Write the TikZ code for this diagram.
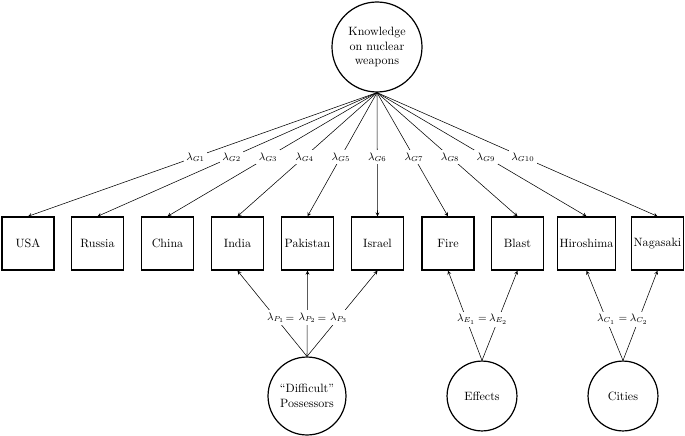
\documentclass[tikz,border=0pt]{standalone}
\usepackage{amsmath,amssymb}
\usepackage{tikz}
\usetikzlibrary{backgrounds,shapes}
\tikzstyle{latent}=[circle,draw=black,line width=1.000,align=center,inner sep=1pt]
\tikzstyle{indicator}=[rectangle,draw=black,line width=1.100,minimum width=43pt,minimum height=44pt,inner sep=1.5pt]
\tikzstyle{loading}=[->, >=stealth, line width=0.450]
\tikzstyle{coef}=[fill=white,inner sep=2pt,font=\small]
\tikzstyle{empty}=[inner sep=0pt,font=\small]
\pgfdeclarelayer{edgelayer}
\pgfdeclarelayer{nodelayer}
\pgfsetlayers{edgelayer,nodelayer,main}

\begin{document}
\begin{tikzpicture}[x=0.83pt,y=-0.83pt]
	\useasboundingbox (0,0) rectangle (685,436);
	\begin{pgfonlayer}{nodelayer}
		\node [style=latent, minimum size=74.7pt] (K) at (377, 47) {Knowledge\\on nuclear\\weapons};
		\node [style=latent, minimum size=64.7pt] (P) at (307, 396) {``Difficult''\\Possessors};
		\node [style=latent, minimum size=58pt] (E) at (482, 396) {Effects};
		\node [style=latent, minimum size=58pt] (C) at (623, 396) {Cities};
		\node [style=indicator] (usa) at (28, 243.5) {USA};
		\node [style=indicator] (rus) at (97.5, 243.5) {Russia};
		\node [style=indicator] (chn) at (167.5, 243.5) {China};
		\node [style=indicator] (ind) at (237.5, 243.5) {India};
		\node [style=indicator] (pak) at (307.5, 243.5) {Pakistan};
		\node [style=indicator] (isr) at (377.5, 243.5) {Israel};
		\node [style=indicator] (fire) at (448, 243.5) {Fire};
		\node [style=indicator] (blast) at (517.5, 243.5) {Blast};
		\node [style=indicator] (hir) at (586.5, 243.5) {Hiroshima};
		\node [style=indicator] (nag) at (657.5, 243.5) {Nagasaki};
		\node [style=empty] (eqP1) at (290, 319) {$=$};
		\node [style=empty] (eqP2) at (322, 319) {$=$};
		\node [style=empty] (eqE) at (482.5, 319) {$=$};
		\node [style=empty] (eqC) at (623, 319) {$=$};
	\end{pgfonlayer}
	\begin{pgfonlayer}{edgelayer}
		\draw [style=loading] (K.south) to node[style=coef, pos=.52] {$\lambda_{G1}$} (usa.north);
		\draw [style=loading] (K.south) to node[style=coef, pos=.52] {$\lambda_{G2}$} (rus.north);
		\draw [style=loading] (K.south) to node[style=coef, pos=.52] {$\lambda_{G3}$} (chn.north);
		\draw [style=loading] (K.south) to node[style=coef, pos=.52] {$\lambda_{G4}$} (ind.north);
		\draw [style=loading] (K.south) to node[style=coef, pos=.52] {$\lambda_{G5}$} (pak.north);
		\draw [style=loading] (K.south) to node[style=coef, pos=.52] {$\lambda_{G6}$} (isr.north);
		\draw [style=loading] (K.south) to node[style=coef, pos=.52] {$\lambda_{G7}$} (fire.north);
		\draw [style=loading] (K.south) to node[style=coef, pos=.52] {$\lambda_{G8}$} (blast.north);
		\draw [style=loading] (K.south) to node[style=coef, pos=.52] {$\lambda_{G9}$} (hir.north);
		\draw [style=loading] (K.south) to node[style=coef, pos=.52] {$\lambda_{G10}$} (nag.north);
		\draw [style=loading] (P.north) to node[style=coef, pos=.45] {$\lambda_{P_1}$} (ind.south);
		\draw [style=loading] (P.north) to node[style=coef, pos=.45] {$\lambda_{P_2}$} (pak.south);
		\draw [style=loading] (P.north) to node[style=coef, pos=.45] {$\lambda_{P_3}$} (isr.south);
		\draw [style=loading] (E.north) to node[style=coef, pos=.46] {$\lambda_{E_1}$} (fire.south);
		\draw [style=loading] (E.north) to node[style=coef, pos=.46] {$\lambda_{E_2}$} (blast.south);
		\draw [style=loading] (C.north) to node[style=coef, pos=.46] {$\lambda_{C_1}$} (hir.south);
		\draw [style=loading] (C.north) to node[style=coef, pos=.46] {$\lambda_{C_2}$} (nag.south);
	\end{pgfonlayer}
\end{tikzpicture}
\end{document}
